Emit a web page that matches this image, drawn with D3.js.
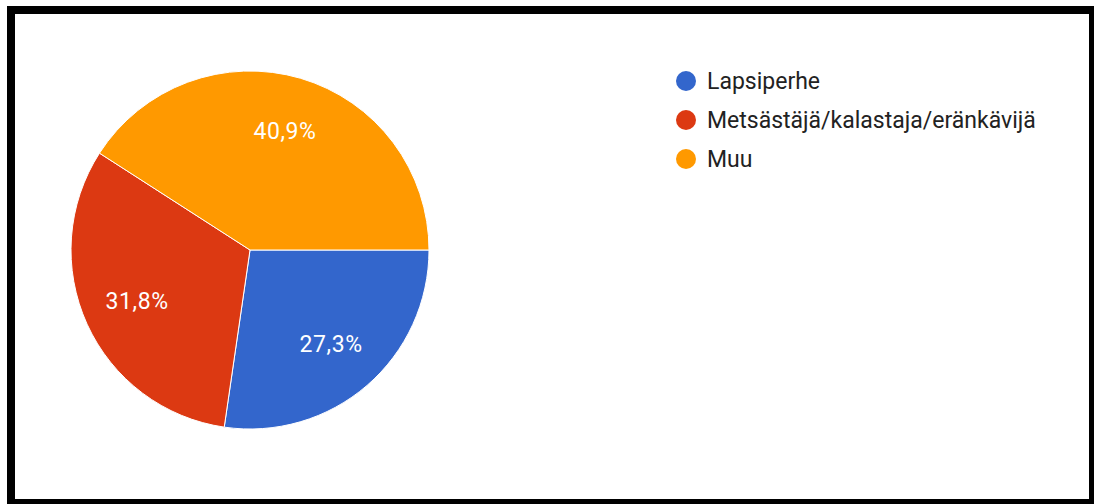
<!DOCTYPE html>
<html>
<head>
<meta charset="utf-8">
<script src="https://cdn.jsdelivr.net/npm/d3@7"></script>
<style>
  html, body { margin: 0; padding: 0; background: #fff; }
  svg { display: block; font-family: Roboto, Arial, sans-serif; }
</style>
</head>
<body>
<div id="chart"></div>
<script>
const categories = ['Lapsiperhe', 'Metsästäjä/kalastaja/eränkävijä', 'Muu']
const values = [27.3, 31.8, 40.9]
const labels = ['27,3%', '31,8%', '40,9%']
const colors = ['#3366cc', '#dc3912', '#ff9900']

const W = 1094, H = 504
const CX = 250, CY = 250, R = 179

const svg = d3.select('#chart').append('svg')
  .attr('width', W)
  .attr('height', H)

// frame
svg.append('rect').attr('x', 7).attr('y', 6).attr('width', W - 7).attr('height', H - 6).attr('fill', '#000')
svg.append('rect').attr('x', 15).attr('y', 14).attr('width', 1089 - 15).attr('height', 499 - 14).attr('fill', '#fff')

const data = categories.map((name, i) => ({ name, value: values[i], label: labels[i], color: colors[i] }))

// google-style pie: first slice starts at 3 o'clock, clockwise
const pie = d3.pie().sort(null).value(d => d.value)
  .startAngle(Math.PI / 2).endAngle(Math.PI / 2 + 2 * Math.PI)
const arc = d3.arc().innerRadius(0).outerRadius(R)
const labelArc = d3.arc().innerRadius(124).outerRadius(124)

const g = svg.append('g').attr('transform', `translate(${CX},${CY})`)

g.selectAll('path').data(pie(data)).join('path')
  .attr('d', arc)
  .attr('fill', d => d.data.color)
  .attr('stroke', '#fff')
  .attr('stroke-width', 1)

g.selectAll('text').data(pie(data)).join('text')
  .attr('transform', d => `translate(${labelArc.centroid(d)})`)
  .attr('text-anchor', 'middle')
  .attr('dy', '0.35em')
  .attr('fill', '#fff')
  .style('font-size', '23px')
  .style('letter-spacing', '0.6px')
  .text(d => d.data.label)

// legend
const legend = svg.append('g').attr('transform', 'translate(686,81)')
const items = legend.selectAll('g').data(data).join('g')
  .attr('transform', (_, i) => `translate(0,${i * 39})`)
items.append('circle').attr('r', 10).attr('fill', d => d.color)
items.append('text')
  .attr('x', 21)
  .attr('dy', '0.36em')
  .attr('fill', '#222')
  .style('font-size', '23px')
  .text(d => d.name)
</script>
</body>
</html>
